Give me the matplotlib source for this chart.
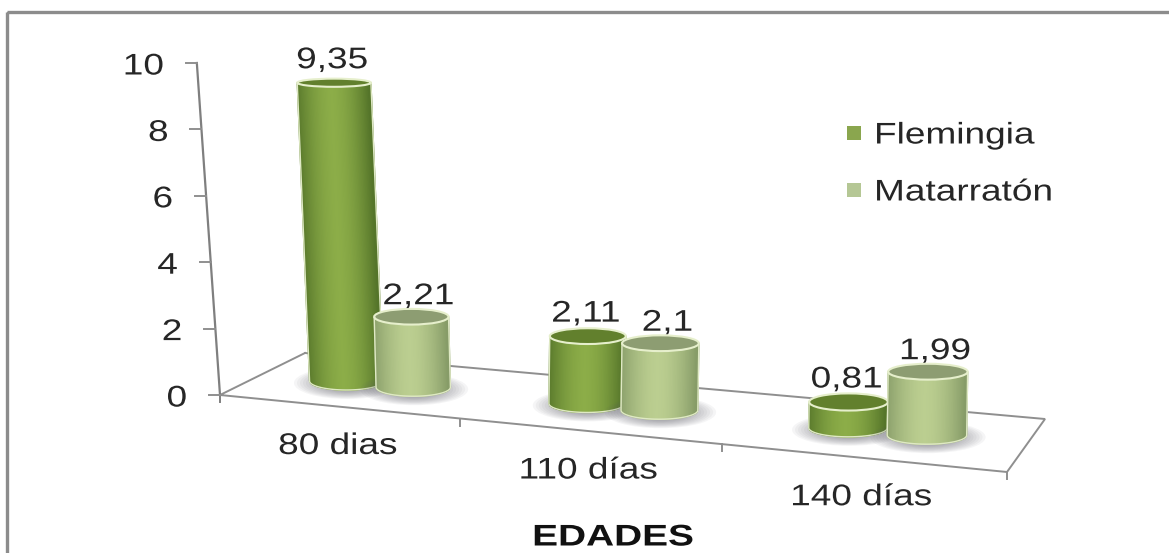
# Clustered cylinder chart with a hand-built floor projection
import numpy as np
import matplotlib
matplotlib.use("Agg")
import matplotlib.pyplot as plt
from matplotlib.patches import Ellipse, Polygon, Rectangle
from matplotlib.collections import PolyCollection
from matplotlib.colors import to_rgb
from matplotlib.patheffects import AbstractPathEffect
from matplotlib.transforms import Affine2D

categories = ["80 dias", "110 días", "140 días"]
flemingia = [9.35, 2.11, 0.81]
matarraton = [2.21, 2.1, 1.99]
y_ticks = [0, 2, 4, 6, 8, 10]

plt.rcParams["font.family"] = ["Liberation Sans", "DejaVu Sans"]

W, H = 1169, 553
fig = plt.figure(figsize=(W / 100, H / 100), dpi=100)
ax = fig.add_axes([0, 0, 1, 1])
ax.set_xlim(0, W)
ax.set_ylim(H, 0)
ax.axis("off")

# floor corners on the page: front left, front right, back right, back left
FLOOR = [(220, 395), (1007, 472), (1045, 419), (305, 353)]


def floor_matrix():
    src = [(0, 0), (3, 0), (3, 1), (0, 1)]
    a, b = [], []
    for (u, v), (x, y) in zip(src, FLOOR):
        a.append([u, v, 1, 0, 0, 0, -u * x, -v * x])
        a.append([0, 0, 0, u, v, 1, -u * y, -v * y])
        b += [x, y]
    return np.append(np.linalg.solve(a, b), 1).reshape(3, 3)


HOMOGRAPHY = floor_matrix()


def project(u, v, z=0.0):
    """category position u, depth v, value z -> page pixels"""
    px, py, w = HOMOGRAPHY @ [u, v, 1]
    x, y = px / w, py / w
    unit = 33.2 - 2.6 * v
    lean = np.clip(0.000225 * (x - 530), -0.08, 0.015)
    rise = z * unit
    return x + rise * lean, y - rise


class Widen(AbstractPathEffect):
    """stretches a text sideways about its anchor"""

    def __init__(self, x0, factor=1.24):
        super().__init__()
        self.stretch = Affine2D().translate(-x0, 0).scale(factor, 1).translate(x0, 0)

    def draw_path(self, renderer, gc, tpath, affine, rgbFace=None):
        renderer.draw_path(gc, tpath, affine + self.stretch, rgbFace)


def label(x, y, s, ha="center", size=21.5, color="#262626", weight="normal", factor=1.24):
    # y is the middle of the digits, baseline sits just over 10 px under it
    ax.text(x, y + 10.5, s, ha=ha, va="baseline", fontsize=size, color=color,
            fontweight=weight, path_effects=[Widen(x, factor)], zorder=20)


def mix(c1, c2, t):
    return tuple((1 - t) * np.array(to_rgb(c1)) + t * np.array(to_rgb(c2)))


def cylinder(u, value, edge, mid, cap, z):
    v = 0.5
    base_x, base_y = project(u, v)
    top_x, top_y = project(u, v, value)
    radius = 36.8 + 0.005 * (base_x - 340)
    rise = base_y - top_y
    b0 = 9.0
    b1 = (18 - 0.033 * rise) / 2

    # soft shadow on the floor
    for k in range(12):
        ax.add_patch(Ellipse((base_x + 1, base_y + 2), radius * 2.9 - k * 6, 32 - k * 1.5,
                             color="#5c5c66", alpha=0.06, lw=0, zorder=z))

    # body as narrow strips, shaded from the rims to the middle
    ts = np.linspace(-1, 1, 61)
    polys, colors = [], []
    for t0, t1 in zip(ts[:-1], ts[1:]):
        s0, s1 = np.sqrt(1 - t0 ** 2), np.sqrt(1 - t1 ** 2)
        polys.append([(base_x + radius * t0, base_y + b0 * s0),
                      (base_x + radius * t1, base_y + b0 * s1),
                      (top_x + radius * t1, top_y + b1 * s1),
                      (top_x + radius * t0, top_y + b1 * s0)])
        shade = 1 - min(abs((t0 + t1) / 2 + 0.05) ** 1.7, 1)
        colors.append(mix(edge, mid, shade))
    ax.add_collection(PolyCollection(polys, facecolors=colors, edgecolors=colors, linewidths=1.0, zorder=z + 1))

    # pale outline round the sides and the bottom
    th = np.linspace(0, np.pi, 40)
    outline = [(top_x - radius, top_y), (base_x - radius, base_y)]
    outline += [(base_x - radius * np.cos(a), base_y + b0 * np.sin(a)) for a in th]
    outline += [(top_x + radius, top_y)]
    ax.add_patch(Polygon(outline, closed=False, fill=False, ec="#dfe9c4", lw=1.0, zorder=z + 2))

    ax.add_patch(Ellipse((top_x, top_y), radius * 2, b1 * 2, fc=cap, ec="#e6efcc", lw=1.5, zorder=z + 3))
    return top_x, top_y


# frame: only the top and left rules are visible
ax.add_patch(Rectangle((7, 12), W, H, fill=False, ec="#8c8c8c", lw=2.4, zorder=1))

# floor
grey = "#8f8f8f"
floor_outline = [project(0, 1), project(0, 0), project(3, 0), project(3, 1), project(0, 1)]
ax.plot(*zip(*floor_outline), color=grey, lw=1.4, zorder=2, solid_joinstyle="miter")

# value axis
ax.plot(*zip(project(0, 0, 10), project(0, 0)), color="#7f7f7f", lw=1.6, zorder=2)
ax.plot([220, 220], [395, 402], color="#7f7f7f", lw=1.4, zorder=2)
for tick in y_ticks:
    x, y = project(0, 0, tick)
    ax.plot([x - 11, x], [y, y], color=grey, lw=1.4, zorder=2)
    label(x - 33, y + 1, str(tick), ha="right")

# category ticks and labels
for i, name in enumerate(categories):
    x, y = project(i + 1, 0)
    ax.plot([x, x], [y, y + 7], color=grey, lw=1.4, zorder=2)
    x, y = project(i + 0.5, 0)
    label(x, y + 37, name)

# bars, one cluster after the other
OFFSET = 0.143
for i, (f, m) in enumerate(zip(flemingia, matarraton)):
    tx, ty = cylinder(i + 0.505 - OFFSET, f, "#55752a", "#8cad48", "#62802d", 4 + i * 10)
    label(tx - 2, ty - 25, f"{f:g}".replace(".", ","))
    tx, ty = cylinder(i + 0.505 + OFFSET, m, "#879c68", "#bbce90", "#8d9d72", 9 + i * 10)
    label(tx + 7, ty - 23, f"{m:g}".replace(".", ","))

# legend
for name, color, y in [("Flemingia", "#8aa64e", 133), ("Matarratón", "#b5c795", 190)]:
    ax.add_patch(Rectangle((847, y - 7), 14, 14, fc=color, ec="none", zorder=20))
    label(874, y, name, ha="left")

label(613, 535, "EDADES", weight="bold", color="#111111", factor=1.3)

fig.savefig("out.png", dpi=100, facecolor="white")
